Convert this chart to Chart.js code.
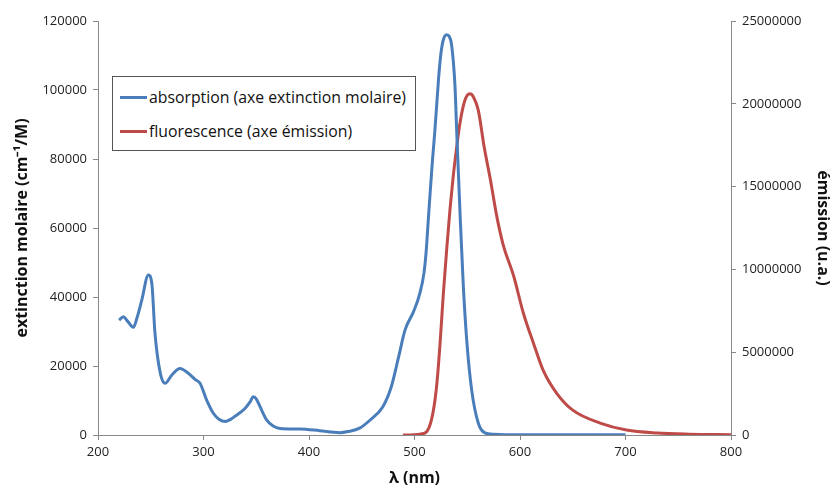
<!DOCTYPE html>
<html><head><meta charset="utf-8">
<script src="https://cdn.jsdelivr.net/npm/chart.js@4"></script>
<style>
html,body{margin:0;padding:0;background:#fff;}
#wrap{position:relative;width:833px;height:492px;}
#legend{position:absolute;left:112px;top:76px;width:304px;height:75px;border:1px solid #555;box-sizing:border-box;background:#fff;font-family:"Open Sans",sans-serif;font-size:15.8px;color:#111;}
.item{position:absolute;left:7px;display:flex;align-items:center;white-space:nowrap;}
.sw{width:27px;height:3px;margin-right:2px;}
</style></head><body>
<div id="wrap"><canvas id="c" width="833" height="492"></canvas><div id="legend"></div></div>
<script>
const xTicks = [200,300,400,500,600,700,800];
const absWl = [220,224,228,233.5,237,241.5,247.7,251,254,259,263.5,270,277.7,285.6,292,296.7,303,309.3,315,320.4,326,331.5,339.3,344,347.2,350,353.6,360,366,372.5,391.5,410,429,437,448,458,470,478,485,491,499,505,509,511,513,515,517,519,521,523,525,527.3,530.5,533,535.2,538.4,540,543.2,546.3,549.5,554.2,560.5,566.8,575,585,700];
const absVal = [33300,34300,33000,31200,34000,39100,46400,44000,29500,18000,15000,17400,19300,17900,16100,15000,10100,6300,4500,3900,4600,5800,7700,9500,11100,10500,8200,4300,2600,1900,1740,1250,670,1000,2000,4350,8200,14000,22700,30400,35700,41000,47000,53000,62000,71000,79500,87000,95500,104000,110500,114500,116000,115500,113000,101000,88000,64000,43000,27500,13000,3400,600,200,100,100];
const fluWl = [489,500,506,511.5,516,519.4,521.5,524.2,527.3,530.5,533.6,536.5,540,543,546,549,552.6,556,560.5,566,572,578,584,594,603,613,622,635,650,676,701,730,760,800];
const fluVal = [0,15000,60000,200000,900000,2100000,3300000,5500000,8500000,11200000,13600000,15500000,17400000,18800000,19800000,20400000,20600000,20400000,19600000,17400000,15400000,13200000,11500000,9600000,7400000,5500000,3900000,2500000,1500000,720000,300000,120000,50000,20000];
const seriesNames = ["absorption (axe extinction molaire)","fluorescence (axe émission)"];
const colors = ["#4A7EBB","#BE4B48"];

const toPts = (xs, ys) => xs.map((x,i)=>({x:x,y:ys[i]}));
const tickFont = {family:"Open Sans", size:13};
const titleFont = {family:"Open Sans", size:16, weight:"bold"};
const axisGray = "#888";
const plain = (v)=>String(v);

new Chart(document.getElementById('c'), {
  type:'line',
  data:{datasets:[
    {label:seriesNames[0], data:toPts(absWl,absVal), borderColor:colors[0], borderWidth:3, pointRadius:0, cubicInterpolationMode:'monotone', yAxisID:'y', fill:false},
    {label:seriesNames[1], data:toPts(fluWl,fluVal), borderColor:colors[1], borderWidth:3, pointRadius:0, cubicInterpolationMode:'monotone', yAxisID:'y2', fill:false}
  ]},
  options:{
    responsive:false, animation:false,
    layout:{padding:{top:21,left:0,right:0,bottom:0}},
    plugins:{legend:{display:false}, tooltip:{enabled:false}},
    scales:{
      x:{type:'linear', min:200, max:800,
        afterBuildTicks:(s)=>{s.ticks = xTicks.map(v=>({value:v}));},
        afterFit:(s)=>{s.height=57;},
        grid:{drawOnChartArea:false, drawTicks:true, tickLength:5, color:axisGray},
        border:{color:axisGray},
        ticks:{font:tickFont, color:'#222', padding:4, maxRotation:0, callback:plain},
        title:{display:true, text:'λ (nm)', font:titleFont, color:'#111', padding:{top:4}}
      },
      y:{position:'left', min:0, max:120000,
        ticks:{stepSize:20000, font:tickFont, color:'#222', padding:6, callback:plain},
        afterFit:(s)=>{s.width=98;},
        grid:{drawOnChartArea:false, drawTicks:true, tickLength:5, color:axisGray},
        border:{color:axisGray},
        title:{display:true, text:'extinction molaire (cm⁻¹/M)', font:titleFont, color:'#111', padding:{top:13,bottom:0}}
      },
      y2:{position:'right', min:0, max:25000000,
        ticks:{stepSize:5000000, font:tickFont, color:'#222', padding:6, callback:plain},
        afterFit:(s)=>{s.width=102;},
        grid:{drawOnChartArea:false, drawTicks:true, tickLength:5, color:axisGray},
        border:{color:axisGray},
        title:{display:true, text:'émission (u.a.)', font:titleFont, color:'#111', padding:{top:1,bottom:0}}
      }
    }
  }
});

const lg = document.getElementById('legend');
seriesNames.forEach((n,i)=>{
  const d = document.createElement('div');
  d.className='item';
  d.style.top = (i===0? 9 : 43)+'px';
  d.innerHTML = '<span class="sw" style="background:'+colors[i]+'"></span><span>'+n+'</span>';
  lg.appendChild(d);
});
</script>
</body></html>
